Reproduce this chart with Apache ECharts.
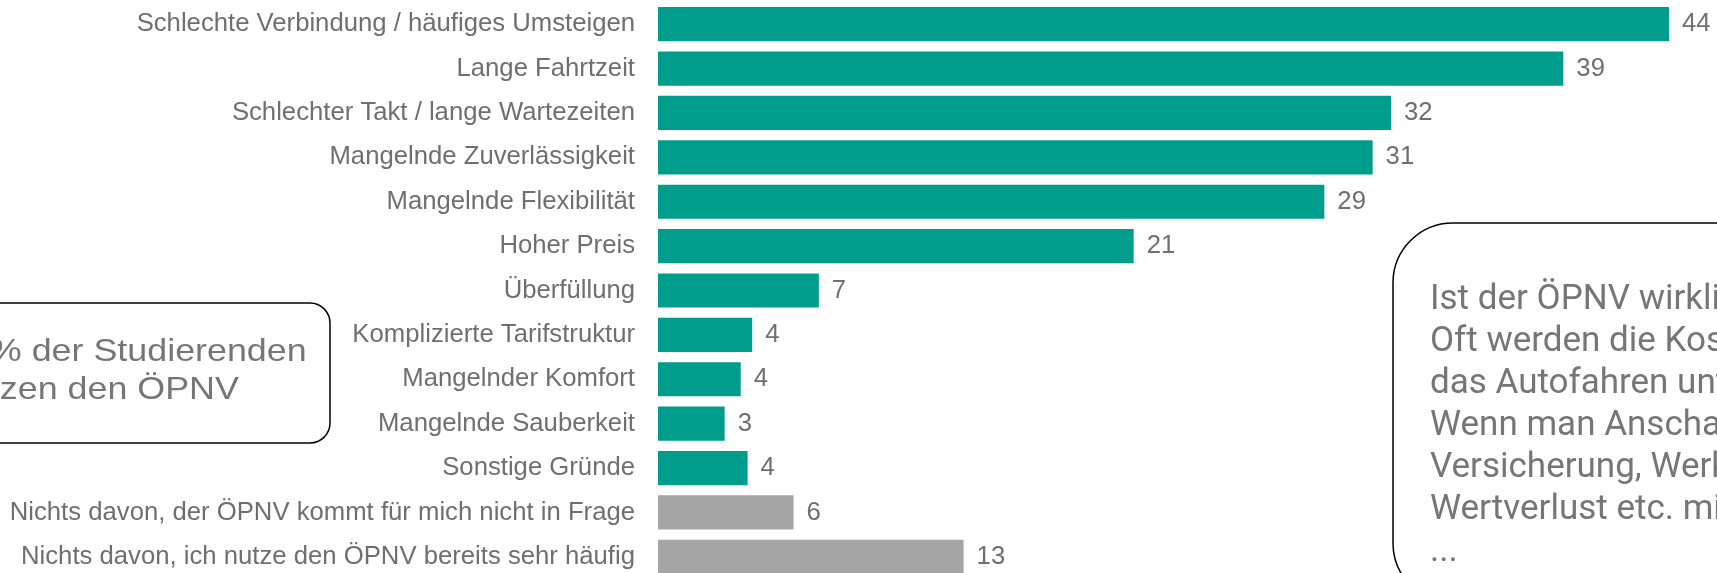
<!DOCTYPE html>
<html>
<head>
<meta charset="utf-8">
<script src="https://cdn.jsdelivr.net/npm/echarts@6/dist/echarts.min.js"></script>
<style>
  html, body { margin: 0; padding: 0; background: #fff; }
  #main { width: 1717px; height: 573px; }
</style>
</head>
<body>
<div id="main"></div>
<script>
// Gründe gegen den ÖPNV, Anteil in % (Werte aus Balkenlänge geschätzt, Labels gerundet)
const categories = [
  'Schlechte Verbindung / häufiges Umsteigen',
  'Lange Fahrtzeit',
  'Schlechter Takt / lange Wartezeiten',
  'Mangelnde Zuverlässigkeit',
  'Mangelnde Flexibilität',
  'Hoher Preis',
  'Überfüllung',
  'Komplizierte Tarifstruktur',
  'Mangelnder Komfort',
  'Mangelnde Sauberkeit',
  'Sonstige Gründe',
  'Nichts davon, der ÖPNV kommt für mich nicht in Frage',
  'Nichts davon, ich nutze den ÖPNV bereits sehr häufig'
];
const values = [44.0, 39.4, 31.9, 31.1, 29.0, 20.7, 7.0, 4.1, 3.6, 2.9, 3.9, 5.9, 13.3];
// die letzten beiden Antworten sind keine Gründe -> grau
const isReason = [true, true, true, true, true, true, true, true, true, true, true, false, false];

const noteLeft = ['28% der Studierenden', 'nutzen den ÖPNV'];
const noteRight = [
  'Ist der ÖPNV wirklich zu teuer?',
  'Oft werden die Kosten für',
  'das Autofahren unterschätzt.',
  'Wenn man Anschaffung,',
  'Versicherung, Werkstatt,',
  'Wertverlust etc. mitrechnet',
  '...'
];

const teal = '#009c8c';
const grey = '#a5a5a5';
const textGrey = '#6f6f6f';
const font = '"Liberation Sans", Arial, sans-serif';

var chart = echarts.init(document.getElementById('main'));

var option = {
  animation: false,
  backgroundColor: '#fff',
  grid: {
    left: 658, top: 2, width: 1057, height: 577,
    outerBoundsMode: 'none'
  },
  xAxis: {
    type: 'value',
    min: 0,
    max: 46,
    show: false
  },
  yAxis: {
    type: 'category',
    inverse: true,
    data: categories,
    axisLine: { show: false },
    axisTick: { show: false },
    axisLabel: {
      margin: 23,
      fontSize: 25.7,
      fontFamily: font,
      color: textGrey,
      padding: [4, 0, 0, 0]
    }
  },
  series: [
    {
      type: 'bar',
      data: values,
      barCategoryGap: '23%',
      itemStyle: {
        color: (p) => isReason[p.dataIndex] ? teal : grey
      },
      label: {
        show: true,
        position: 'right',
        distance: 13,
        fontSize: 25.7,
        fontFamily: font,
        color: textGrey,
        padding: [4, 0, 0, 0],
        formatter: (p) => Math.round(p.value)
      }
    }
  ],
  graphic: [
    {
      type: 'rect',
      shape: { x: -40, y: 303, width: 370, height: 140, r: 20 },
      style: { fill: 'none', stroke: '#000', lineWidth: 1.5 }
    },
    {
      type: 'text',
      x: -50,
      y: 333,
      scaleX: 1.12,
      style: {
        text: noteLeft.join('\n'),
        font: '32px "Liberation Sans", Arial, sans-serif',
        lineHeight: 38,
        fill: '#767676'
      }
    },
    {
      type: 'rect',
      shape: { x: 1393, y: 223, width: 420, height: 380, r: 60 },
      style: { fill: '#fff', stroke: '#000', lineWidth: 1.5 }
    },
    {
      type: 'text',
      x: 1430,
      y: 279,
      style: {
        text: noteRight.join('\n'),
        font: '35px Roboto, sans-serif',
        lineHeight: 42,
        fill: '#767676'
      }
    }
  ]
};

chart.setOption(option);
</script>
</body>
</html>
